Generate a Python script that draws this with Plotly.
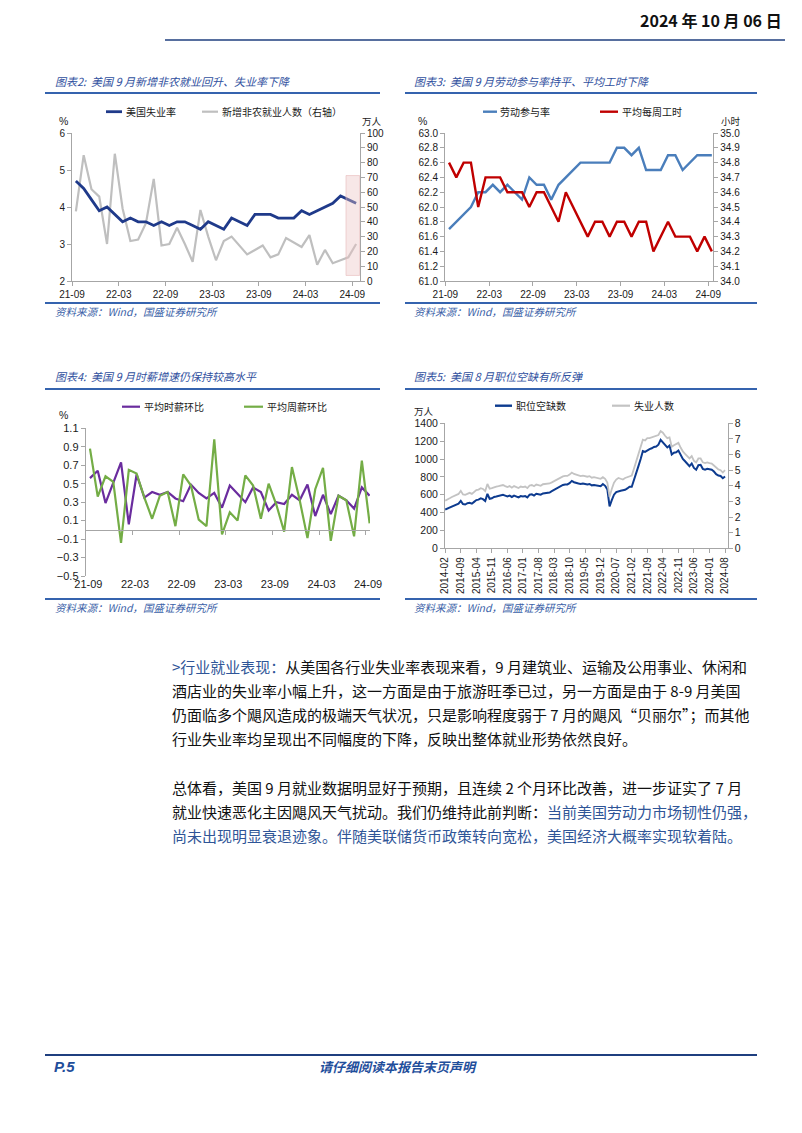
import plotly.graph_objects as go

W, H = 802, 1133
OFF = 8  # page body margin in the browser
def fx(x): return (x - OFF) / W
def fy(y): return 1 - (y - OFF) / H

# ---------------- data ----------------
MONTHS_A = [f"{y % 100:02d}-{m:02d}" for y in (2021, 2022, 2023, 2024) for m in range(1, 13)
            if (2021, 9) <= (y, m) <= (2024, 9)]
TICKS_A = ["21-09", "22-03", "22-09", "23-03", "23-09", "24-03", "24-09"]

UNEMP_RATE = [4.7, 4.5, 4.2, 3.9, 4.0, 3.8, 3.6, 3.7, 3.6, 3.6, 3.5, 3.6, 3.5, 3.6, 3.6, 3.5,
              3.4, 3.6, 3.5, 3.4, 3.7, 3.6, 3.5, 3.8, 3.8, 3.8, 3.7, 3.7, 3.7, 3.9, 3.8, 3.9,
              4.0, 4.1, 4.3, 4.2, 4.1]
NONFARM_ADD = [47, 85, 62, 57, 25, 86, 49, 27, 28, 39, 69, 24, 25, 36, 25, 13, 48, 30, 14, 27,
               30, 24, 18, 21, 24, 16, 18, 29, 26, 23, 31, 11, 21, 12, 14, 16, 25]
LFPR = [61.7, 61.8, 61.9, 62.0, 62.2, 62.2, 62.3, 62.2, 62.3, 62.2, 62.1, 62.4, 62.3, 62.3,
        62.1, 62.3, 62.4, 62.5, 62.6, 62.6, 62.6, 62.6, 62.6, 62.8, 62.8, 62.7, 62.8, 62.5,
        62.5, 62.5, 62.7, 62.7, 62.5, 62.6, 62.7, 62.7, 62.7]
WEEKLY_HOURS = [34.8, 34.7, 34.8, 34.8, 34.5, 34.7, 34.7, 34.7, 34.6, 34.6, 34.6, 34.5, 34.6,
                34.6, 34.5, 34.4, 34.6, 34.5, 34.4, 34.3, 34.4, 34.4, 34.3, 34.4, 34.4, 34.3,
                34.4, 34.4, 34.2, 34.3, 34.4, 34.3, 34.3, 34.3, 34.2, 34.3, 34.2]
HOURLY_WAGE_MOM = [0.56, 0.64, 0.29, 0.50, 0.73, 0.06, 0.60, 0.35, 0.41, 0.38, 0.41, 0.34, 0.31,
                   0.49, 0.40, 0.34, 0.40, 0.24, 0.48, 0.39, 0.30, 0.46, 0.41, 0.21, 0.30, 0.28,
                   0.38, 0.32, 0.49, 0.15, 0.38, 0.17, 0.37, 0.32, 0.23, 0.46, 0.37]
WEEKLY_WAGE_MOM = [0.88, 0.36, 0.58, 0.52, -0.14, 0.65, 0.61, 0.35, 0.12, 0.37, 0.41, 0.04, 0.60,
                   0.48, 0.11, 0.04, 0.98, -0.05, 0.19, 0.10, 0.59, 0.48, 0.12, 0.50, 0.27, -0.02,
                   0.68, 0.32, -0.09, 0.44, 0.67, -0.12, 0.37, 0.32, -0.07, 0.75, 0.07]

MONTHS_B = [f"{y}-{m:02d}" for y in range(2014, 2025) for m in range(1, 13)
            if (2014, 2) <= (y, m) <= (2024, 8)]
TICKS_B = MONTHS_B[::7]
JOB_OPENINGS = [
    435, 445, 460, 470, 480, 485, 500, 530, 495, 490, 505,
    510, 500, 520, 540, 545, 560, 550, 530, 610, 555, 560, 575,
    580, 585, 590, 600, 590, 580, 590, 575, 590, 580, 570, 585,
    580, 585, 570, 600, 605, 590, 610, 605, 600, 615, 620, 625,
    625, 640, 655, 665, 680, 700, 710, 715, 715, 730, 755, 740,
    730, 725, 720, 725, 720, 715, 720, 705, 710, 705, 700, 695,
    720, 700, 660, 470, 540, 600, 630, 640, 645, 650, 655, 670,
    690, 690, 760, 850, 920, 1000, 1090, 1080, 1100, 1110, 1120, 1135,
    1140, 1160, 1215, 1190, 1160, 1130, 1150, 1050, 1070, 1075, 1095, 1040,
    1000, 975, 950, 920, 950, 900, 880, 930, 935, 890, 880, 890,
    885, 880, 860, 830, 815, 810, 785, 805]
UNEMPLOYED = [
    3.05, 3.10, 3.20, 3.28, 3.35, 3.40, 3.48, 3.68, 3.45, 3.42, 3.50,
    3.55, 3.48, 3.60, 3.72, 3.76, 3.85, 3.80, 3.66, 4.12, 3.82, 3.85, 3.92,
    3.95, 3.98, 4.00, 4.05, 3.98, 3.92, 3.98, 3.88, 3.98, 3.92, 3.86, 3.95,
    3.92, 3.95, 3.85, 4.02, 4.05, 3.97, 4.08, 4.04, 4.00, 4.10, 4.12, 4.15,
    4.15, 4.22, 4.30, 4.36, 4.45, 4.55, 4.60, 4.63, 4.63, 4.72, 4.85, 4.76,
    4.70, 4.66, 4.62, 4.65, 4.62, 4.58, 4.62, 4.52, 4.55, 4.52, 4.48, 4.45,
    4.55, 4.45, 4.20, 3.30, 3.80, 4.20, 4.40, 4.50, 4.45, 4.40, 4.50, 4.55,
    4.60, 4.65, 5.10, 5.60, 6.00, 6.50, 6.95, 6.90, 7.05, 7.05, 7.10, 7.15,
    7.15, 7.25, 7.50, 7.40, 7.20, 7.05, 7.10, 6.50, 6.60, 6.65, 6.75, 6.45,
    6.20, 6.05, 5.90, 5.75, 5.90, 5.60, 5.50, 5.75, 5.75, 5.50, 5.45, 5.50,
    5.45, 5.42, 5.30, 5.15, 5.05, 5.00, 4.85, 5.00]

# ---------------- styles ----------------
CJK = "Noto Sans CJK SC"
NUM = "Liberation Sans, Arial"
AX = "#A6A6A6"
TITLE_BLUE = "#2F4F9E"
RULE_BLUE = "#3563AE"

def axis(**kw):
    d = dict(showgrid=False, zeroline=False, showline=True, linecolor=AX, linewidth=1,
             ticks="outside", ticklen=4, tickcolor=AX, automargin=False,
             tickfont=dict(family=NUM, size=10, color="#1a1a1a"))
    d.update(kw)
    return d

fig = go.Figure()

# ---- chart 1 ----
xa = list(range(len(MONTHS_A)))
fig.add_trace(go.Scatter(x=xa, y=NONFARM_ADD, xaxis="x", yaxis="y", mode="lines",
                         line=dict(color="#BFBFBF", width=2.2)))
fig.add_trace(go.Scatter(x=xa, y=UNEMP_RATE, xaxis="x", yaxis="y2", mode="lines",
                         line=dict(color="#1F3A8A", width=2.8)))
# ---- chart 2 ----
fig.add_trace(go.Scatter(x=xa, y=LFPR, xaxis="x2", yaxis="y3", mode="lines",
                         line=dict(color="#4A7EBB", width=2.4)))
fig.add_trace(go.Scatter(x=xa, y=WEEKLY_HOURS, xaxis="x2", yaxis="y4", mode="lines",
                         line=dict(color="#C00000", width=2.4)))
# ---- chart 3 ----
fig.add_trace(go.Scatter(x=xa, y=HOURLY_WAGE_MOM, xaxis="x3", yaxis="y5", mode="lines",
                         line=dict(color="#6A2C9E", width=2.2)))
fig.add_trace(go.Scatter(x=xa, y=WEEKLY_WAGE_MOM, xaxis="x3", yaxis="y5", mode="lines",
                         line=dict(color="#74AD46", width=2.2)))
fig.add_trace(go.Scatter(x=[], y=[], xaxis="x4", yaxis="y5", mode="lines"))
# ---- chart 4 ----
xb = list(range(len(MONTHS_B)))
fig.add_trace(go.Scatter(x=xb, y=JOB_OPENINGS, xaxis="x5", yaxis="y6", mode="lines",
                         line=dict(color="#0D3B8F", width=2.0)))
fig.add_trace(go.Scatter(x=xb, y=UNEMPLOYED, xaxis="x5", yaxis="y7", mode="lines",
                         line=dict(color="#C3C3C3", width=1.8)))

dom_y1 = [fy(281), fy(133)]
dom_y2 = [fy(576), fy(428.3)]
dom_y4 = [fy(548.3), fy(423.3)]
rng3 = [-0.5, 1.1]
zero_pos = dom_y2[0] + (0 - rng3[0]) / (rng3[1] - rng3[0]) * (dom_y2[1] - dom_y2[0])

tick_a_bound = [MONTHS_A.index(t) - 0.5 for t in TICKS_A]
tick_a_lab3 = [MONTHS_A.index(t) - 0.2 for t in TICKS_A]
tick_b = [MONTHS_B.index(t) for t in TICKS_B]

fig.update_layout(
    width=W, height=H, margin=dict(l=0, r=0, t=0, b=0, pad=0, autoexpand=False),
    paper_bgcolor="white", plot_bgcolor="white", showlegend=False,
    xaxis=axis(domain=[fx(72), fx(360)], range=[-0.5, 36.5], anchor="y",
               tickvals=tick_a_bound, ticktext=TICKS_A),
    yaxis=axis(domain=dom_y1, range=[0, 100], dtick=10, side="right", anchor="x"),
    yaxis2=axis(domain=dom_y1, range=[2, 6], dtick=1, side="left", anchor="x",
                overlaying="y"),
    xaxis2=axis(domain=[fx(445), fx(713.3)], range=[-0.55, 36.2], anchor="y3",
                tickvals=tick_a_bound, ticktext=TICKS_A),
    yaxis3=axis(domain=dom_y1, range=[61.0, 63.0], dtick=0.2, tickformat=".1f",
                anchor="x2"),
    yaxis4=axis(domain=dom_y1, range=[34.0, 35.0], dtick=0.1, tickformat=".1f",
                side="right", anchor="x2", overlaying="y3"),
    xaxis3=axis(domain=[fx(85.7), fx(370)], range=[-0.55, 36.05], anchor="y5",
                showline=False, ticks="", tickvals=tick_a_lab3, ticktext=TICKS_A,
                tickfont=dict(family=NUM, size=11, color="#1a1a1a")),
    xaxis4=axis(domain=[fx(85.7), fx(370)], range=[-0.55, 36.05], anchor="free",
                overlaying="x3", position=zero_pos, showticklabels=False,
                tickvals=tick_a_bound[1:]),
    yaxis5=axis(domain=dom_y2, range=rng3, tickvals=[-0.5, -0.3, -0.1, 0.1, 0.3, 0.5, 0.7, 0.9, 1.1],
                tickformat=".1f", anchor="x3",
                tickfont=dict(family=NUM, size=11, color="#1a1a1a")),
    xaxis5=axis(domain=[fx(445), fx(727.7)], range=[-0.1, 127.2], anchor="y6",
                tickvals=tick_b, ticktext=TICKS_B, tickangle=-90),
    yaxis6=axis(domain=dom_y4, range=[0, 1400], dtick=200, anchor="x5",
                tickfont=dict(family=NUM, size=10.5, color="#1a1a1a")),
    yaxis7=axis(domain=dom_y4, range=[0, 8], dtick=1, side="right", anchor="x5",
                overlaying="y6", tickfont=dict(family=NUM, size=10.5, color="#1a1a1a")),
)

shapes = []
def hline(x0, x1, y, color, width):
    shapes.append(dict(type="line", xref="paper", yref="paper", x0=fx(x0), x1=fx(x1),
                       y0=fy(y), y1=fy(y), line=dict(color=color, width=width)))

hline(165, 785, 40, "#1F3F7F", 1.5)
for (a, b) in [(45, 380), (405, 757)]:
    for yy in (93, 303, 389, 599):
        hline(a, b, yy, RULE_BLUE, 2)
hline(45, 757, 1055, "#1F3F7F", 2)

# legend samples
hline(106, 122, 111.7, "#1F3A8A", 2.8)
hline(202, 218, 111.7, "#BFBFBF", 2.2)
hline(483, 497, 111.7, "#4A7EBB", 2.4)
hline(600, 618, 111.7, "#C00000", 2.4)
hline(122, 140, 406.7, "#6A2C9E", 2.2)
hline(244, 263, 406.7, "#74AD46", 2.2)
hline(495, 512, 405.7, "#0D3B8F", 2.4)
hline(612, 630, 405.7, "#C3C3C3", 2.2)

# highlight box on chart 1 (last two months)
shapes.append(dict(type="rect", xref="x", yref="y2",
                   x0=MONTHS_A.index("24-08") - 0.3, x1=MONTHS_A.index("24-09") + 0.45,
                   y0=2.15, y1=4.85, layer="above",
                   fillcolor="rgba(236,196,196,0.40)",
                   line=dict(color="rgba(230,180,180,0.55)", width=1)))
fig.update_layout(shapes=shapes)

ann = []
def text(x, y, s, size=10, color="#1a1a1a", anchor="left", family=CJK, italic=False, bold=False):
    if bold:
        s = f"<b>{s}</b>"
    if italic:
        s = f"<i>{s}</i>"
    ann.append(dict(x=fx(x), y=fy(y), xref="paper", yref="paper", text=s, showarrow=False,
                    xanchor=anchor, yanchor="middle",
                    font=dict(family=family, size=size, color=color)))

text(784, 20, "2024 年 10 月 06 日", size=16, color="#111", anchor="right", bold=True)

# titles
text(53, 81, "图表2:  美国 9 月新增非农就业回升、失业率下降", 11, TITLE_BLUE, italic=True)
text(412, 81, "图表3:  美国 9 月劳动参与率持平、平均工时下降", 11, TITLE_BLUE, italic=True)
text(53, 376, "图表4:  美国 9 月时薪增速仍保持较高水平", 11, TITLE_BLUE, italic=True)
text(412, 376, "图表5:  美国 8 月职位空缺有所反弹", 11, TITLE_BLUE, italic=True)
for (xx, yy) in [(53, 311), (412, 311), (53, 607), (412, 607)]:
    text(xx, yy, "资料来源：Wind，国盛证券研究所", 10.5, "#3B5FA8", italic=True)

# legend texts
text(124, 111.7, "美国失业率", 10)
text(220, 111.7, "新增非农就业人数（右轴）", 10)
text(498, 111.7, "劳动参与率", 10)
text(620, 111.7, "平均每周工时", 10)
text(142, 406.7, "平均时薪环比", 10)
text(265, 406.7, "平均周薪环比", 10)
text(514, 405.7, "职位空缺数", 10)
text(632, 405.7, "失业人数", 10)

# unit labels
text(64, 121, "%", 10.5, anchor="center", family=NUM)
text(372, 121, "万人", 9.5, anchor="center")
text(422, 121, "%", 10.5, anchor="center", family=NUM)
text(731, 121, "小时", 9.5, anchor="center")
text(63, 414.5, "%", 10.5, anchor="center", family=NUM)
text(424, 410.7, "万人", 9.5, anchor="center")

# body text
BLUE_TXT = "#2F5597"
body = [
    (666, f"<span style='color:{BLUE_TXT}'>&gt;行业就业表现：</span>从美国各行业失业率表现来看，9 月建筑业、运输及公用事业、休闲和"),
    (690, "酒店业的失业率小幅上升，这一方面是由于旅游旺季已过，另一方面是由于 8-9 月美国"),
    (714, "仍面临多个飓风造成的极端天气状况，只是影响程度弱于 7 月的飓风“贝丽尔”；而其他"),
    (738, "行业失业率均呈现出不同幅度的下降，反映出整体就业形势依然良好。"),
    (787, "总体看，美国 9 月就业数据明显好于预期，且连续 2 个月环比改善，进一步证实了 7 月"),
    (811, f"就业快速恶化主因飓风天气扰动。我们仍维持此前判断：<span style='color:{BLUE_TXT}'>当前美国劳动力市场韧性仍强，</span>"),
    (835, f"<span style='color:{BLUE_TXT}'>尚未出现明显衰退迹象。伴随美联储货币政策转向宽松，美国经济大概率实现软着陆。</span>"),
]
for yy, s in body:
    text(170, yy, s, 15, "#111")

# footer
text(52, 1066, "P.5", 15, "#1F4E9B", italic=True, bold=True, family="Liberation Sans, Arial")
text(398, 1066, "请仔细阅读本报告末页声明", 13, "#1F4E9B", anchor="center", italic=True, bold=True)

fig.update_layout(annotations=ann)
fig.write_html("out.html")
